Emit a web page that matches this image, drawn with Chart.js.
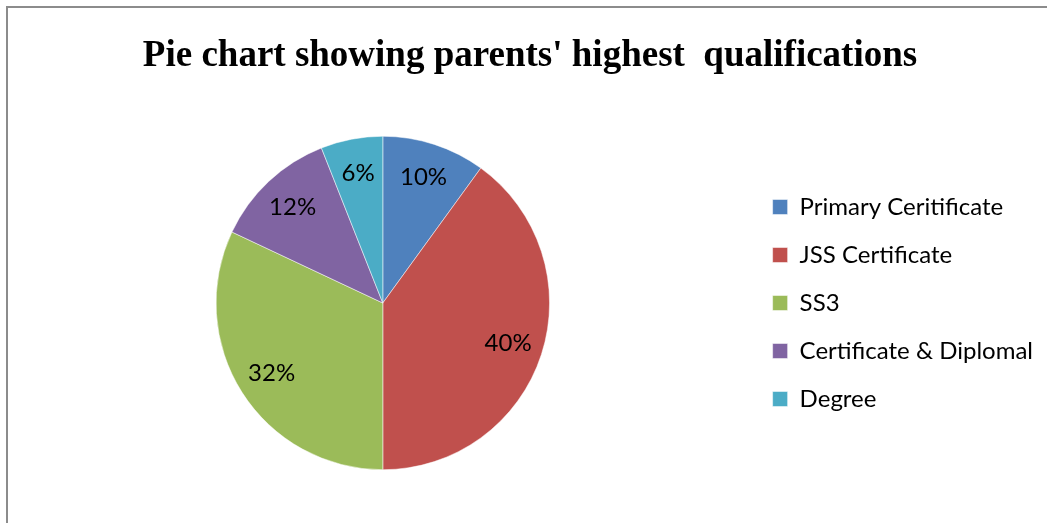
<!DOCTYPE html>
<html>
<head>
<meta charset="utf-8">
<script src="https://cdn.jsdelivr.net/npm/chart.js@4"></script>
<style>
  body { margin: 0; background: #fff; }
  #wrap { position: relative; width: 1047px; height: 523px; overflow: hidden; }
  #frame { position: absolute; left: 6px; top: 6px; width: 1100px; height: 600px; border: 2px solid #8c8c8c; }
  canvas { position: absolute; left: 0; top: 0; }
</style>
</head>
<body>
<div id="wrap">
  <div id="frame"></div>
  <canvas id="pieChart" width="1047" height="523"></canvas>
</div>
<script>
const categories = ['Primary Ceritificate', 'JSS Certificate', 'SS3', 'Certificate & Diplomal', 'Degree'];
const percentages = [10, 40, 32, 12, 6];
const sliceColors = ['#4F81BD', '#C0504D', '#9BBB59', '#8064A2', '#4BACC6'];

const labelFont = 'Lato, "Liberation Sans", sans-serif';

// percent labels inside each slice
const sliceLabels = {
    id: 'sliceLabels',
    afterDatasetsDraw(chart) {
        const ctx = chart.ctx;
        const meta = chart.getDatasetMeta(0);
        ctx.save();
        ctx.fillStyle = '#000';
        ctx.font = '24px ' + labelFont;
        ctx.textAlign = 'center';
        ctx.textBaseline = 'middle';
        meta.data.forEach((arc, i) => {
            const p = arc.getProps(['x', 'y', 'startAngle', 'endAngle', 'outerRadius'], true);
            const mid = (p.startAngle + p.endAngle) / 2;
            const r = p.outerRadius * 0.79;
            ctx.fillText(percentages[i] + '%', p.x + Math.cos(mid) * r, p.y + Math.sin(mid) * r);
        });
        ctx.restore();
    }
};

const ctx = document.getElementById('pieChart').getContext('2d');
const chart = new Chart(ctx, {
    type: 'pie',
    data: {
        labels: categories,
        datasets: [{
            data: percentages,
            backgroundColor: sliceColors,
            borderColor: '#ffffff',
            borderWidth: 0.5
        }]
    },
    options: {
        responsive: false,
        animation: false,
        layout: {
            padding: { top: 0, bottom: 53, left: 17, right: 4 }
        },
        plugins: {
            title: {
                display: true,
                text: "Pie chart showing parents' highest  qualifications",
                color: '#000',
                font: { family: '"Liberation Serif", "Times New Roman", serif', size: 37, weight: 'bold', lineHeight: 1.2 },
                padding: { top: 34, bottom: 57.6 }
            },
            legend: {
                position: 'right',
                fullSize: false,
                labels: {
                    boxWidth: 15,
                    boxHeight: 15,
                    padding: 24,
                    color: '#000',
                    font: { family: labelFont, size: 24 }
                }
            },
            tooltip: { enabled: false }
        }
    },
    plugins: [sliceLabels]
});
</script>
</body>
</html>
